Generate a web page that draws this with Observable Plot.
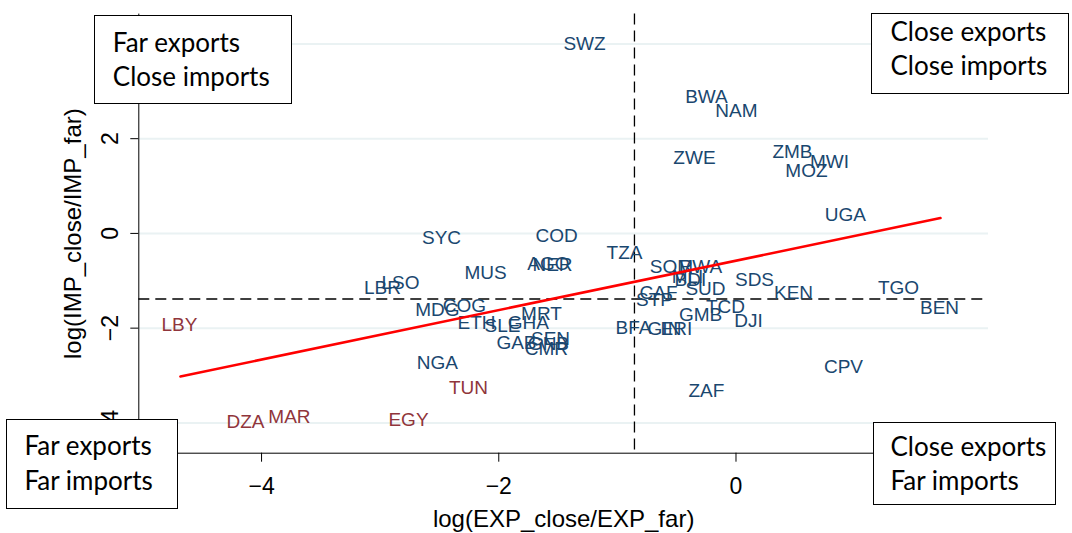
<!DOCTYPE html>
<html><head><meta charset="utf-8">
<script src="https://cdn.jsdelivr.net/npm/d3@7"></script>
<script src="https://cdn.jsdelivr.net/npm/@observablehq/plot@0.6"></script>
<style>
body{margin:0;background:#fff;}
#wrap{position:relative;width:1072px;height:533px;overflow:hidden;background:#fff;}
.box{position:absolute;box-sizing:border-box;border:1.5px solid #000;background:#fff;font-family:Lato,"Open Sans",sans-serif;font-size:26px;line-height:34px;color:#000;white-space:nowrap;}
</style></head><body>
<div id="wrap"></div>
<script>
// ---- data ----
const countries = ["SWZ","BWA","NAM","ZWE","ZMB","MWI","MOZ","UGA","SYC","COD","AGO","NER","MUS","TZA","LSO","LBR","MDG","COG","ETH","SLE","GHA","MRT","GAB","SEN","GNB","CMR","NGA","TUN","EGY","DZA","MAR","LBY","SOM","RWA","MLI","BDI","SUD","CAF","STP","SDS","KEN","TGO","BEN","TCD","DJI","GMB","BFA","GIN","ERI","CPV","ZAF"];
const expRatio = [-1.277,-0.249,0.004,-0.350,0.476,0.788,0.594,0.923,-2.483,-1.513,-1.581,-1.547,-2.112,-0.940,-2.829,-2.980,-2.517,-2.289,-2.188,-1.969,-1.750,-1.640,-1.851,-1.564,-1.581,-1.598,-2.517,-2.255,-2.761,-4.136,-3.765,-4.692,-0.544,-0.299,-0.409,-0.384,-0.257,-0.653,-0.687,0.156,0.485,1.370,1.716,-0.089,0.105,-0.299,-0.864,-0.603,-0.502,0.906,-0.249];
const impRatio = [4.01,2.89,2.59,1.60,1.73,1.50,1.31,0.40,-0.09,-0.05,-0.64,-0.66,-0.84,-0.41,-1.04,-1.14,-1.61,-1.52,-1.88,-1.95,-1.88,-1.69,-2.31,-2.22,-2.33,-2.43,-2.73,-3.26,-3.93,-3.97,-3.87,-1.94,-0.70,-0.70,-0.91,-0.98,-1.17,-1.25,-1.40,-0.98,-1.25,-1.14,-1.57,-1.55,-1.84,-1.73,-1.99,-2.01,-2.01,-2.81,-3.32];
const northAfrica = ["TUN","EGY","DZA","MAR","LBY"];
const fitX = [-4.684, 1.724];
const fitY = [-3.02, 0.325];
const meanExp = -0.856;
const meanImp = -1.385;
const xTicks = [-4, -2, 0];
const yTicks = [-4, -2, 0, 2, 4];
const xDomain = [-5.035, 2.129];
const yDomain = [-4.64, 4.63];
const xTitle = "log(EXP_close/EXP_far)";
const yTitle = "log(IMP_close/IMP_far)";
const quadrantText = [
  ["Far exports", "Close imports"],
  ["Close exports", "Close imports"],
  ["Far exports", "Far imports"],
  ["Close exports", "Far imports"]
];

// ---- styles / layout ----
const blue = "#1a476f", maroon = "#90353b";
const boxLayout = [
  {left:94, top:15, width:198, height:89, pl:17.8, pt:9, lh:34},
  {left:871, top:13, width:198, height:81, pl:18.5, pt:0, lh:34},
  {left:6, top:419, width:172, height:90, pl:17.5, pt:8, lh:35},
  {left:873, top:422, width:183, height:83, pl:16.5, pt:6, lh:34}
];

const data = countries.map((c, i) => ({code: c, x: expRatio[i], y: impRatio[i], na: northAfrica.includes(c)}));
const fit = fitX.map((x, i) => ({x, y: fitY[i]}));
const fmt = d => d < 0 ? "\u2212" + Math.abs(d) : String(d);

const chart = Plot.plot({
  width: 1072, height: 533,
  marginLeft: 138.3, marginRight: 84, marginTop: 13.6, marginBottom: 80.3,
  x: {domain: xDomain},
  y: {domain: yDomain},
  style: {fontFamily: "'Liberation Sans', Arial, sans-serif", background: "#fff", color: "#000"},
  marks: [
    Plot.gridY(yTicks, {stroke: "#eaf2f3", strokeOpacity: 1, strokeWidth: 2}),
    Plot.ruleX([meanExp], {stroke: "#000", strokeWidth: 1.3, strokeDasharray: "11,6"}),
    Plot.ruleY([meanImp], {stroke: "#000", strokeWidth: 1.3, strokeDasharray: "11,6"}),
    Plot.ruleX([xDomain[0]], {stroke: "#000", strokeWidth: 1}),
    Plot.ruleY([yDomain[0]], {stroke: "#000", strokeWidth: 1}),
    Plot.axisX({ticks: xTicks, tickSize: 9, tickPadding: 15, fontSize: 23, tickFormat: fmt, label: null}),
    Plot.axisY({ticks: yTicks, tickSize: 8, tickFormat: () => "", label: null}),
    Plot.text(yTicks, {y: d => d, frameAnchor: "left", dx: -28, rotate: -90, text: fmt, fontSize: 23, fill: "#000", textAnchor: "middle", lineAnchor: "middle"}),
    Plot.text(data, {x: "x", y: "y", text: "code", fill: d => d.na ? maroon : blue, fontSize: 19}),
    Plot.line(fit, {x: "x", y: "y", stroke: "#ff0000", strokeWidth: 2.6}),
    Plot.text([xTitle], {frameAnchor: "bottom", dy: 66.6, fontSize: 24, fill: "#000", textAnchor: "middle", lineAnchor: "middle"}),
    Plot.text([yTitle], {frameAnchor: "left", dx: -65, rotate: -90, fontSize: 24, fill: "#000", textAnchor: "middle", lineAnchor: "middle"})
  ]
});

const wrap = document.getElementById("wrap");
wrap.appendChild(chart);
chart.style.position = "absolute";
chart.style.left = "0";
chart.style.top = "0";

quadrantText.forEach((lines, i) => {
  const b = boxLayout[i];
  const div = document.createElement("div");
  div.className = "box";
  Object.assign(div.style, {
    left: b.left + "px", top: b.top + "px", width: b.width + "px", height: b.height + "px",
    paddingLeft: b.pl + "px", paddingTop: b.pt + "px", lineHeight: b.lh + "px"
  });
  lines.forEach(t => {
    const l = document.createElement("div");
    l.textContent = t;
    div.appendChild(l);
  });
  wrap.appendChild(div);
});
</script>
</body></html>
